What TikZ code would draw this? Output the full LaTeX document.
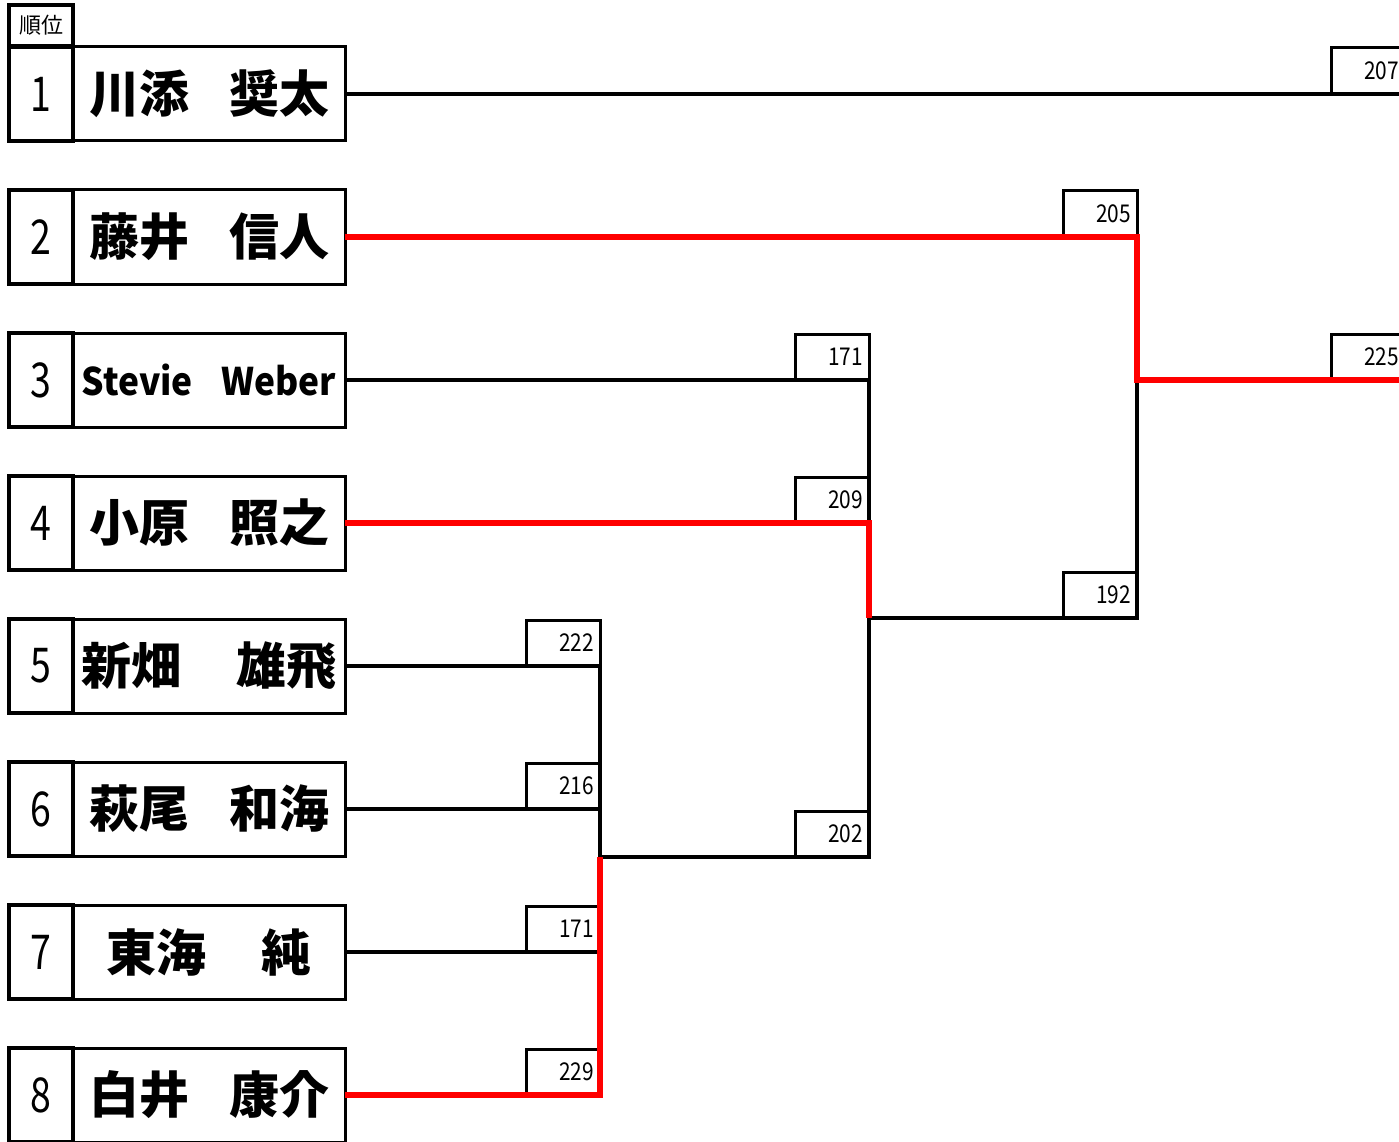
\documentclass[tikz,border=0pt]{standalone}
\usepackage{fontspec}
\usepackage{graphicx}
\newfontfamily\jp{Noto Sans CJK JP}
\newcommand{\rk}[1]{\scalebox{0.78}[1]{#1}}
\newcommand{\pts}[1]{\scalebox{0.85}[1]{#1}}
\tikzset{
  rankbox/.style={draw,line width=4.5pt,outer sep=0pt,inner sep=0pt,minimum width=64pt,minimum height=94pt,font=\jp\fontsize{48}{52}\selectfont},
  namebox/.style={draw,line width=3pt,outer sep=0pt,inner sep=0pt,minimum width=272pt,minimum height=94pt,font=\jp\bfseries\fontsize{50}{56}\selectfont},
  ptsbox/.style={draw,line width=3pt,outer sep=0pt,anchor=south east,minimum height=46pt,text width=62pt,inner xsep=6pt,inner ysep=0pt,align=right,font=\jp\fontsize{24.5}{26}\selectfont},
  bk/.style={line width=4pt,black},
  rd/.style={line width=6.5pt,red}
}
\begin{document}
\begin{tikzpicture}[x=1pt,y=-1pt,line join=miter]
	\path[use as bounding box,clip] (0,0) rectangle (1399,1142);
	\node[draw,line width=4pt,outer sep=0pt,inner sep=0pt,minimum width=64pt,minimum height=41pt,font=\jp\fontsize{22}{24}\selectfont] (hd) at (41,25.5) {順位};
	\node[rankbox] (r1) at (41,94) {\rk{1}};
	\node[rankbox] (r2) at (41,237) {\rk{2}};
	\node[rankbox] (r3) at (41,380) {\rk{3}};
	\node[rankbox] (r4) at (41,523) {\rk{4}};
	\node[rankbox] (r5) at (41,666) {\rk{5}};
	\node[rankbox] (r6) at (41,809) {\rk{6}};
	\node[rankbox] (r7) at (41,952) {\rk{7}};
	\node[rankbox] (r8) at (41,1095) {\rk{8}};
	\node[namebox] (n1) at (209,94) {川添\hspace{0.8em}奨太};
	\node[namebox] (n2) at (209,237) {藤井\hspace{0.8em}信人};
	\node[namebox,font=\jp\bfseries\fontsize{38}{44}\selectfont] (n3) at (209,380) {\scalebox{0.93}[1]{Stevie\hspace{0.8em}Weber}};
	\node[namebox] (n4) at (209,523) {小原\hspace{0.8em}照之};
	\node[namebox] (n5) at (209,666) {新畑\hspace{1.1em}雄飛};
	\node[namebox] (n6) at (209,809) {萩尾\hspace{0.8em}和海};
	\node[namebox] (n7) at (209,952) {東海\hspace{1.1em}純};
	\node[namebox] (n8) at (209,1095) {白井\hspace{0.8em}康介};
	\node[ptsbox] (m5) at (600,666) {\pts{222}};
	\node[ptsbox] (m6) at (600,809) {\pts{216}};
	\node[ptsbox] (m7) at (600,952) {\pts{171}};
	\node[ptsbox] (m8) at (600,1095) {\pts{229}};
	\node[ptsbox] (m3) at (869,380) {\pts{171}};
	\node[ptsbox] (m4) at (869,523) {\pts{209}};
	\node[ptsbox] (m58) at (869,857) {\pts{202}};
	\node[ptsbox] (k2) at (1137,237) {\pts{205}};
	\node[ptsbox] (k38) at (1137,618) {\pts{192}};
	\node[ptsbox] (f1) at (1405,94) {\pts{207}};
	\node[ptsbox] (f2) at (1405,380) {\pts{225}};
	\draw[bk] (n1.east) -- (f1.south east);
	\draw[bk] (n3.east) -- (m3.south east) -- (m4.south east);
	\draw[bk] (n5.east) -- (m5.south east) -- (m5.south east |- m58.south east) -- (m58.south east) -- (m58.south east |- k38.south east) -- (k38.south east) -- (k38.south east |- f2.south east);
	\draw[bk] (n6.east) -- (m6.south east);
	\draw[bk] (n7.east) -- (m7.south east);
	\draw[rd] (n2.east) -- (k2.south east) -- (k2.south east |- f2.south east) -- (f2.south east);
	\draw[rd] (n4.east) -- (m4.south east) -- (m4.south east |- k38.south east);
	\draw[rd] (n8.east) -- (m8.south east) -- (m8.south east |- m58.south east);
\end{tikzpicture}
\end{document}
